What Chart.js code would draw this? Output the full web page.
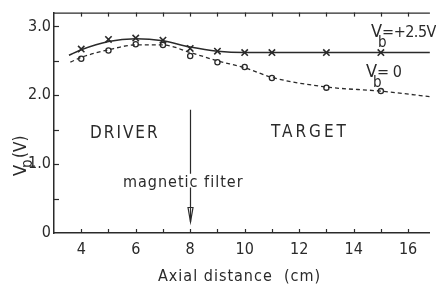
<!DOCTYPE html>
<html>
<head>
<meta charset="utf-8">
<script src="https://cdn.jsdelivr.net/npm/chart.js@4"></script>
<style>
html,body{margin:0;padding:0;background:#fff;}
#c{display:block;}
</style>
</head>
<body>
<canvas id="c" width="436" height="284"></canvas>
<script>
// ---- data ----
const positions = [4, 5, 6, 7, 8, 9, 10, 11, 13, 15];          // axial distance (cm)
const vbPlusMeasured = [2.67, 2.81, 2.83, 2.80, 2.68, 2.64, 2.62, 2.62, 2.62, 2.62];
const vbZeroMeasured = [2.53, 2.65, 2.74, 2.73, 2.57, 2.48, 2.41, 2.25, 2.11, 2.06];

const fitPlusX = [3.55, 4, 5, 6, 7, 8, 9, 10, 11, 13, 15, 16.8];
const fitPlusY = [2.58, 2.66, 2.78, 2.82, 2.79, 2.70, 2.64, 2.62, 2.62, 2.62, 2.62, 2.62];
const fitZeroX = [3.6, 4, 5, 6, 7, 8, 9, 10, 11, 13, 15, 16.8];
const fitZeroY = [2.48, 2.55, 2.66, 2.73, 2.73, 2.62, 2.50, 2.40, 2.26, 2.12, 2.06, 1.98];

const xTickLabels = [4, 6, 8, 10, 12, 14, 16];
const yTickValues = [0, 1, 2, 3];
const yTickLabels = ['0', '1.0', '2.0', '3.0'];

const pts = (xs, ys) => xs.map((x, i) => ({x, y: ys[i]}));

const INK = '#2a2a2a';
const FONT = '"DejaVu Sans Condensed", "DejaVu Sans", sans-serif';

const annotate = {
  id: 'annotate',
  afterDraw(chart) {
    const {ctx, chartArea: a, scales: {x, y}} = chart;
    ctx.save();
    ctx.strokeStyle = INK;
    ctx.fillStyle = INK;
    // top frame line
    ctx.lineWidth = 1.2;
    ctx.beginPath(); ctx.moveTo(a.left, a.top + 0.5); ctx.lineTo(a.right, a.top + 0.5); ctx.stroke();
    // inward ticks
    for (let v = 4; v <= 16; v++) {
      const px = Math.round(x.getPixelForValue(v)) + 0.5;
      ctx.beginPath(); ctx.moveTo(px, a.bottom); ctx.lineTo(px, a.bottom - 4); ctx.stroke();
      ctx.beginPath(); ctx.moveTo(px, a.top); ctx.lineTo(px, a.top + 4); ctx.stroke();
    }
    for (let v = 0.5; v <= 3.0001; v += 0.5) {
      const py = Math.round(y.getPixelForValue(v)) + 0.5;
      ctx.beginPath(); ctx.moveTo(a.left, py); ctx.lineTo(a.left + 5, py); ctx.stroke();
    }
    // magnetic filter arrow
    const ax = Math.round(x.getPixelForValue(8)) + 0.5;
    ctx.beginPath();
    ctx.moveTo(ax, y.getPixelForValue(1.79)); ctx.lineTo(ax, y.getPixelForValue(0.86));
    ctx.moveTo(ax, y.getPixelForValue(0.66)); ctx.lineTo(ax, y.getPixelForValue(0.16));
    ctx.stroke();
    const tipY = y.getPixelForValue(0.16), baseY = y.getPixelForValue(0.37);
    ctx.beginPath();
    ctx.moveTo(ax - 2.5, baseY); ctx.lineTo(ax, tipY); ctx.lineTo(ax + 2.5, baseY); ctx.closePath();
    ctx.stroke();

    // texts
    ctx.textBaseline = 'alphabetic';
    ctx.textAlign = 'left';
    ctx.font = '17px ' + FONT;
    ctx.letterSpacing = '2px';
    ctx.fillText('DRIVER', 90, 138);
    ctx.letterSpacing = '3px';
    ctx.fillText('TARGET', 271, 137);
    ctx.letterSpacing = '1px';
    ctx.font = '16px ' + FONT;
    ctx.fillText('magnetic filter', 123, 187);
    ctx.fillText('Axial distance  (cm)', 158, 281);
    ctx.letterSpacing = '0px';

    // V_b labels
    const vb = (xp, yb, rest) => {
      ctx.font = '18px ' + FONT;
      ctx.fillText('V', xp, yb);
      const w = ctx.measureText('V').width;
      ctx.font = '15px ' + FONT;
      ctx.fillText('b', xp + w - 4, yb + 10);
      ctx.font = '16px ' + FONT;
      ctx.letterSpacing = '-0.5px';
      ctx.fillText(rest, xp + w, yb);
      ctx.letterSpacing = '0px';
    };
    vb(371, 37, '=+2.5V');
    vb(366, 77, '= 0');

    // y axis title V_p (V)
    ctx.save();
    ctx.translate(26, 176);
    ctx.rotate(-Math.PI / 2);
    ctx.font = '18px ' + FONT;
    ctx.fillText('V', 0, 0);
    const wv = ctx.measureText('V').width;
    ctx.font = '15px ' + FONT;
    ctx.fillText('p', wv - 3, 6);
    ctx.font = '17px ' + FONT;
    ctx.fillText('(V)', wv + 7, 0);
    ctx.restore();
    ctx.restore();
  }
};

new Chart(document.getElementById('c'), {
  type: 'scatter',
  data: {
    datasets: [
      {data: pts(fitPlusX, fitPlusY), showLine: true, borderColor: INK, borderWidth: 1.5,
       pointRadius: 0, tension: 0.4, cubicInterpolationMode: 'monotone'},
      {data: pts(fitZeroX, fitZeroY), showLine: true, borderColor: INK, borderWidth: 1.3,
       borderDash: [4, 3], pointRadius: 0, tension: 0.4, cubicInterpolationMode: 'monotone'},
      {data: pts(positions, vbPlusMeasured), showLine: false, pointStyle: 'crossRot',
       pointRadius: 4.5, borderColor: INK, borderWidth: 1.6},
      {data: pts(positions, vbZeroMeasured), showLine: false, pointStyle: 'circle',
       pointRadius: 2.6, borderColor: INK, backgroundColor: '#fff', borderWidth: 1.3}
    ]
  },
  options: {
    responsive: false,
    animation: false,
    devicePixelRatio: 1,
    layout: {padding: {top: 10, right: 0, left: 0, bottom: 0}},
    plugins: {legend: {display: false}, tooltip: {enabled: false}},
    scales: {
      x: {
        type: 'linear', min: 3, max: 16.8,
        grid: {display: false, drawTicks: false},
        border: {display: true, color: INK, width: 1.5},
        afterBuildTicks: s => { s.ticks = xTickLabels.map(v => ({value: v})); },
        ticks: {
          autoSkip: false, maxRotation: 0, padding: 7,
          color: INK, font: {family: FONT, size: 16},
          callback: v => String(v)
        },
        afterFit: s => { s.height = 51; }
      },
      y: {
        min: 0, max: 3.2,
        grid: {display: false, drawTicks: false},
        border: {display: true, color: INK, width: 1.5},
        afterBuildTicks: s => { s.ticks = yTickValues.map(v => ({value: v})); },
        ticks: {
          autoSkip: false, padding: 3,
          color: INK, font: {family: FONT, size: 16},
          callback: v => yTickLabels[yTickValues.indexOf(v)]
        },
        afterFit: s => { s.width = 54; }
      }
    }
  },
  plugins: [annotate]
});
</script>
</body>
</html>
